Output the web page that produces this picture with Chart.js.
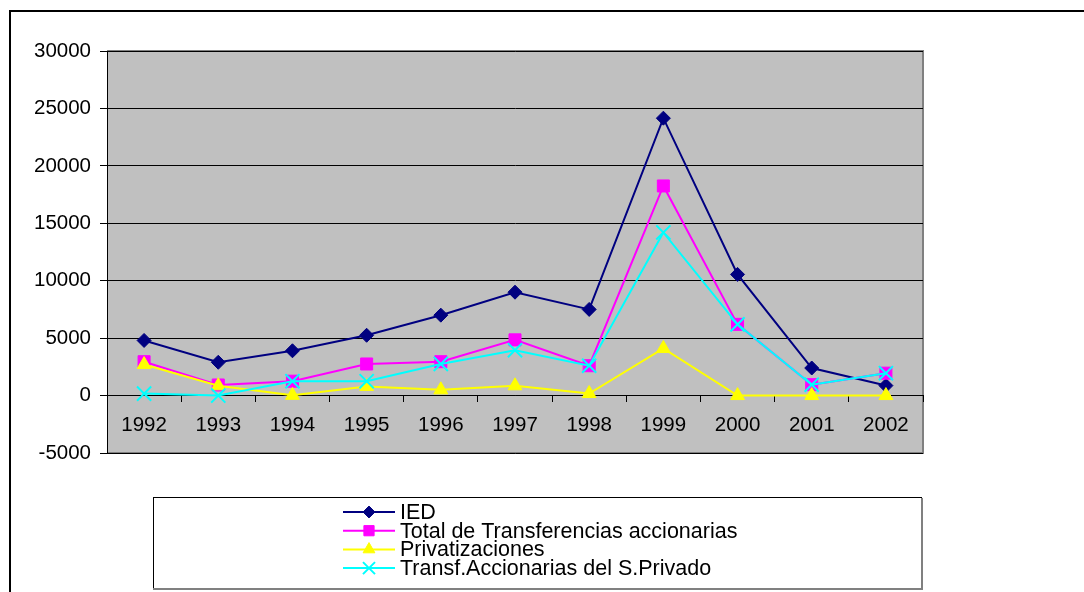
<!DOCTYPE html>
<html>
<head>
<meta charset="utf-8">
<script src="https://cdn.jsdelivr.net/npm/chart.js@4/dist/chart.umd.min.js"></script>
<style>
  body { margin: 0; background: #fff; }
  #wrap { width: 1084px; height: 592px; }
</style>
</head>
<body>
<div id="wrap"><canvas id="c" width="1084" height="592"></canvas></div>
<script>
// values (millones)
var years = ['1992', '1993', '1994', '1995', '1996', '1997', '1998', '1999', '2000', '2001', '2002'];
var ied = [4800, 2900, 3900, 5250, 7000, 9000, 7500, 24150, 10550, 2400, 870];
var totalTransf = [2950, 920, 1250, 2750, 2950, 4850, 2600, 18250, 6200, 950, 1950];
var privatizaciones = [2700, 850, 20, 800, 500, 850, 180, 4100, 0, 0, 0];
var transfPrivado = [170, 0, 1250, 1250, 2750, 3950, 2600, 14200, 6200, 950, 1950];
var yTicks = { min: -5000, max: 30000, step: 5000 };

var FONT = '"Liberation Sans", Arial, sans-serif';

function makeSet(label, data, color, style, radius, order) {
  return {
    label: label,
    data: data,
    borderColor: color,
    backgroundColor: color,
    borderWidth: 2,
    pointStyle: style,
    pointRadius: radius,
    pointHoverRadius: radius,
    pointBackgroundColor: color,
    pointBorderColor: color,
    pointBorderWidth: style == 'crossRot' ? 2 : 1,
    tension: 0,
    fill: false,
    order: order
  };
}

// grey plot area + outer frame
var backdrop = {
  id: 'backdrop',
  beforeDraw: function (chart) {
    var ctx = chart.ctx, a = chart.chartArea;
    ctx.save();
    ctx.fillStyle = '#fff';
    ctx.fillRect(0, 0, chart.width, chart.height);
    ctx.strokeStyle = '#000';
    ctx.lineWidth = 2;
    ctx.beginPath();
    ctx.moveTo(10, chart.height);
    ctx.lineTo(10, 11);
    ctx.lineTo(chart.width, 11);
    ctx.stroke();
    ctx.fillStyle = '#C0C0C0';
    ctx.fillRect(a.left, a.top, a.right - a.left, a.bottom - a.top);
    ctx.strokeStyle = '#808080';
    ctx.lineWidth = 2;
    ctx.beginPath();
    ctx.moveTo(a.left, a.top);
    ctx.lineTo(a.right, a.top);
    ctx.lineTo(a.right, a.bottom);
    ctx.lineTo(a.left, a.bottom);
    ctx.stroke();
    ctx.restore();
  }
};

// excel style legend box with line + marker
var boxLegend = {
  id: 'boxLegend',
  afterDraw: function (chart) {
    var ctx = chart.ctx;
    ctx.save();
    ctx.strokeStyle = '#000';
    ctx.lineWidth = 1;
    ctx.strokeRect(153.5, 497.5, 768, 91);
    ctx.strokeStyle = '#808080';
    ctx.lineWidth = 2;
    ctx.beginPath();
    ctx.moveTo(153, 589);
    ctx.lineTo(922, 589);
    ctx.lineTo(922, 498);
    ctx.stroke();

    chart.data.datasets.forEach(function (ds, i) {
      var y = 512 + i * 18.7;
      ctx.strokeStyle = ds.borderColor;
      ctx.lineWidth = 2;
      ctx.beginPath();
      ctx.moveTo(343, y);
      ctx.lineTo(395, y);
      ctx.stroke();
      ctx.fillStyle = ds.pointBackgroundColor;
      ctx.lineWidth = ds.pointBorderWidth;
      Chart.helpers.drawPoint(ctx, {
        pointStyle: ds.pointStyle,
        radius: ds.pointRadius * 0.85,
        rotation: 0,
        borderWidth: ds.pointBorderWidth
      }, 369, y);
      ctx.fillStyle = '#000';
      ctx.font = '21.5px ' + FONT;
      ctx.textBaseline = 'middle';
      ctx.textAlign = 'left';
      ctx.fillText(ds.label, 400, y + 1);
    });
    ctx.restore();
  }
};

var ctx = document.getElementById('c').getContext('2d');
var chart = new Chart(ctx, {
  type: 'line',
  data: {
    labels: years,
    datasets: [
      makeSet('IED', ied, '#000080', 'rectRot', 7, 3),
      makeSet('Total de Transferencias accionarias', totalTransf, '#FF00FF', 'rect', 8.5, 2),
      makeSet('Privatizaciones', privatizaciones, '#FFFF00', 'triangle', 8, 1),
      makeSet('Transf.Accionarias del S.Privado', transfPrivado, '#00FFFF', 'crossRot', 10, 0)
    ]
  },
  options: {
    responsive: false,
    animation: false,
    layout: { padding: { left: 0, top: 51, right: 161, bottom: 139 } },
    plugins: {
      legend: { display: false },
      tooltip: { enabled: false }
    },
    scales: {
      x: {
        type: 'category',
        position: { y: 0 },
        offset: true,
        grid: {
          offset: true,
          drawOnChartArea: false,
          drawTicks: true,
          tickLength: 6,
          tickColor: '#000'
        },
        border: { display: true, color: '#000', width: 1 },
        ticks: {
          color: '#000',
          font: { family: FONT, size: 20.5 },
          padding: 11,
          maxRotation: 0,
          autoSkip: false
        }
      },
      y: {
        min: yTicks.min,
        max: yTicks.max,
        afterFit: function (scale) { scale.width = 107; },
        grid: {
          color: '#000',
          lineWidth: 1,
          drawTicks: true,
          tickLength: 7,
          tickColor: '#000'
        },
        border: { display: true, color: '#000', width: 1 },
        ticks: {
          stepSize: yTicks.step,
          color: '#000',
          font: { family: FONT, size: 20.5 },
          padding: 9,
          callback: function (v) { return String(v); }
        }
      }
    }
  },
  plugins: [backdrop, boxLegend]
});
</script>
</body>
</html>
